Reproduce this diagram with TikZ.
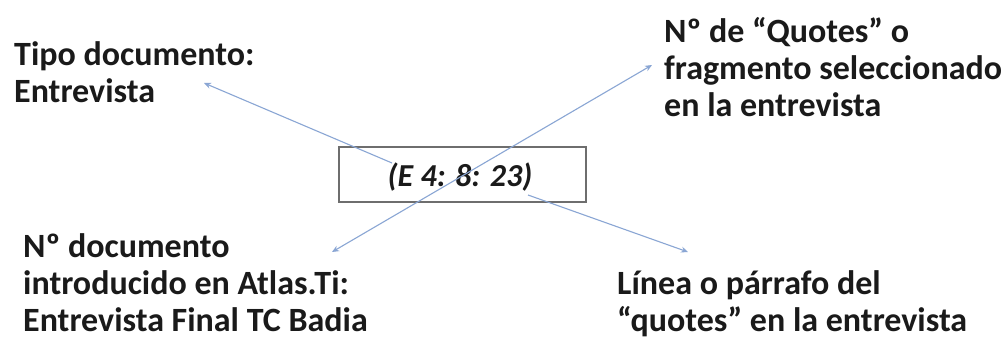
\documentclass[tikz,border=0pt]{standalone}
\usepackage{fontspec}
\setmainfont{Carlito}
\usetikzlibrary{arrows.meta}
\definecolor{arrowblue}{HTML}{8AA6D4}
\definecolor{boxgray}{HTML}{6E6E6E}
\definecolor{txt}{HTML}{1A1A1A}
\tikzset{
  lbl/.style={anchor=base west, inner sep=0pt, align=left, text=txt,
    font=\bfseries\fontsize{34}{37}\selectfont},
  conn/.style={draw=arrowblue, line width=1.1pt, -{Stealth[length=7pt,width=6pt]}},
  codebox/.style={draw=boxgray, line width=1.3pt, minimum width=247pt, minimum height=55pt, inner sep=0pt}
}
\begin{document}
\begin{tikzpicture}[x=1pt,y=-1pt]
\useasboundingbox[fill=white] (0,0) rectangle (1006,344);
% labels (anchored at the baseline of the last line)
\node[lbl] (tipo) at (14,103) {Tipo documento:\\Entrevista};
\node[lbl] (quotes) at (664,117) {Nº de “Quotes” o\\fragmento seleccionado\\en la entrevista};
\node[lbl] (docnum) at (23,332) {Nº documento\\introducido en Atlas.Ti:\\Entrevista Final TC Badia};
\node[lbl] (linea) at (617,332) {Línea o párrafo del\\“quotes” en la entrevista};
% central box
\node[codebox] (box) at (462.5,174.5) {};
\node[anchor=base, inner sep=0pt, text=txt, font=\bfseries\itshape\fontsize{32}{36}\selectfont] (code) at (460,187) {(E 4: 8: 23)};
% arrow coordinates
\coordinate (s1) at (392,163);
\coordinate (t1) at (204,83);
\coordinate (s2) at (492,158.5);
\coordinate (t2a) at (652,65);
\coordinate (t2b) at (332,252);
\coordinate (s3) at (528,195);
\coordinate (t3) at (688,252);
\draw[conn] (s1) -- (t1);
\draw[conn] (s2) -- (t2a);
\draw[conn] (s2) -- (t2b);
\draw[conn] (s3) -- (t3);
\end{tikzpicture}
\end{document}
